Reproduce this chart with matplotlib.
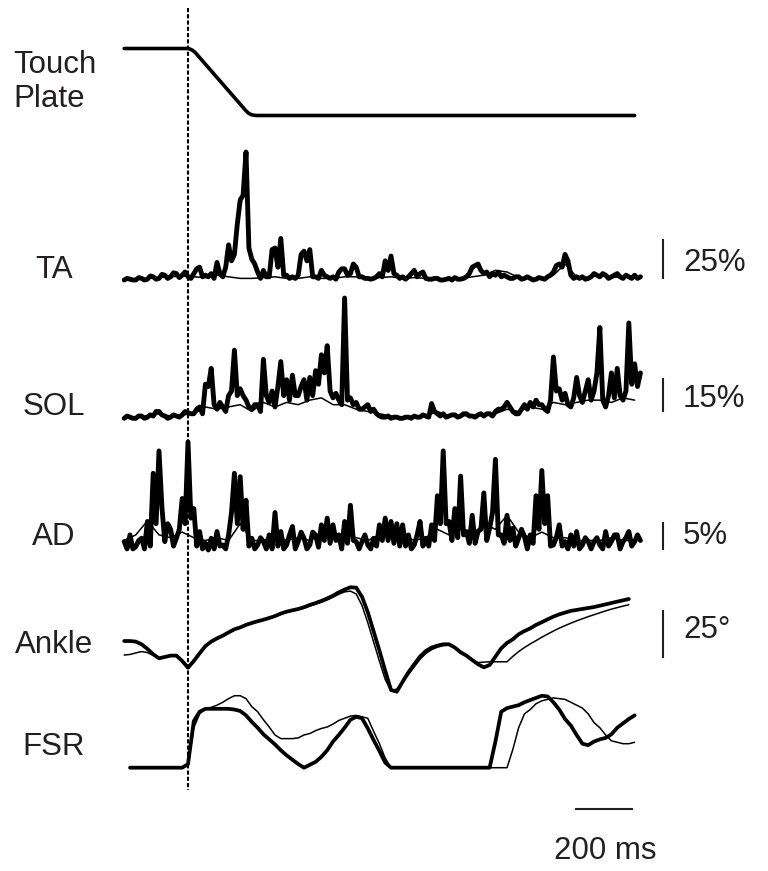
import numpy as np
import matplotlib
matplotlib.use("Agg")
import matplotlib.pyplot as plt

# ---------------- data (time in ms relative to touch-plate release) ----------------
EMG_STEP = 10   # ms sampling of thick EMG traces
THIN_STEP = 40  # ms sampling of thin EMG traces
KIN_STEP = 20   # ms sampling of ankle / FSR traces

# Touch plate position (normalised)
touch_t = [-220, -5, 5, 15, 25, 200, 210, 220, 235, 1540]
touch_v = [1.0, 1.0, 0.995, 0.975, 0.94, 0.07, 0.03, 0.01, 0.0, 0.0]

# TA EMG (% max), thick trace, t0=-220, rows of 100 ms
ta_t0 = -220
ta_thick = [0, 1, 0.5, 0, 0, 1.5, 1, 0, 0.5, 2.5,        # -220
            2, 0.5, 1, 3.5, 3, 1, 2, 4.5, 4, 1.5,        # -120
            3, 5, 2, 1, 4, 7, 8, 2, 3, 2,                # -20
            4, 1, 11, 4, 2, 8, 22, 12, 16, 35,           # 80
            50, 53, 80, 20, 13, 10, 5, 1, 6, 2,          # 180
            2, 19, 20, 8, 26, 3, 3, 1, 2, 1,             # 280
            3, 16, 18, 12, 19, 2, 2, 1, 6, 3,            # 380
            2, 1, 2, 0.5, 5, 7, 7, 3, 4, 10,             # 480
            8, 2, 2, 1, 1, 0.5, 1, 2, 4, 2,              # 580
            12, 6, 15, 4, 3, 1, 2, 0.5, 2, 4,            # 680
            6, 2, 4, 5, 1, 0.5, 0.5, 1, 1, 0,            # 780
            0, 0.5, 1, 0, 1.5, 0.5, 0.5, 1, 2, 4,        # 880
            8, 9, 10, 6, 4, 5, 2, 4, 3, 5,               # 980
            2, 3, 2, 1, 1, 2, 2, 0.5, 1, 2,              # 1080
            1, 0, 0.5, 1.5, 1, 0.5, 2, 3, 5, 9,          # 1180
            10, 8, 16, 12, 3, 1, 2, 1, 2, 0.5,           # 1280
            1, 2, 4, 3, 2, 4, 3, 1, 2, 3,                # 1380
            4, 2, 1, 3, 2, 1, 3, 1, 2]                   # 1480..1560
ta_thin = [0.5, 0.5, 1, 1.5, 2, 2.5, 2, 1.5, 3, 2,
           1, 1, 1.5, 2, 1, 1, 2, 1, 1, 2,
           2, 1, 1.5, 2, 1, 1.5, 1, 0.5, 1, 1,
           2, 3, 6, 5, 1.5, 1, 1, 3, 10, 2,
           1.5, 3, 2, 1.5, 2]

# SOL EMG (% max)
sol_t0 = -220
sol_thick = [0, 1, 0.5, 0, 0, 1, 1, 0, 0.5, 1.5,         # -220
             1, 3, 3, 1.5, 1, 0, 0.5, 1.5, 1, 0.5,       # -120
             1.5, 3, 2.5, 2, 2, 4, 5, 2, 15, 14,         # -20
             22, 6, 4, 7, 5, 3, 10, 12, 30, 10,          # 80
             13, 10, 8, 5, 4, 6, 6, 3, 26, 10,           # 180
             7, 12, 5, 14, 25, 10, 17, 8, 19, 10,        # 280
             10, 14, 17, 8, 18, 10, 21, 15, 28, 20,      # 380
             32, 12, 9, 11, 8, 6, 53, 8, 9, 6,           # 480
             7, 4, 4, 5, 6, 3, 4, 2, 1, 0.5,             # 580
             0.5, 1, 0, 0.5, 0.5, 0, 0, 0.5, 0.5, 0,     # 680
             1, 0.5, 0.5, 1.5, 1, 0.5, 6.5, 3, 2, 1,     # 780
             2, 0.5, 1, 1.5, 1.5, 0.5, 1, 2, 2, 1,       # 880
             1, 0.5, 1.5, 2, 1, 2, 2, 1, 3, 4,           # 980
             4, 5, 7, 5, 3, 2, 2, 4, 6, 4,               # 1080
             7, 5, 8, 6, 6, 4, 3, 8, 27, 12,             # 1180
             13, 8, 11, 6, 5, 9, 18, 10, 7, 12,          # 1280
             17, 8, 12, 20, 40, 8, 5, 10, 20, 9,         # 1380
             22, 10, 8, 12, 42, 15, 24, 14, 20]          # 1480..1560
sol_thin = [0.5, 0.5, 1, 2, 1, 1.5, 2, 5, 4, 5,
            6, 3, 7, 5, 7, 6, 8, 9, 6, 6,
            4, 3, 2, 1, 0.5, 1, 1, 3, 1, 1,
            1.5, 1, 2, 4, 3, 5, 4, 7, 6, 7,
            8, 8, 7, 9, 8]

# AD EMG (% max)
ad_t0 = -220
ad_thick = [1.8, 0.5, 3, 0.5, 0.9, 2, 2.4, 0.5, 5.4, 1,       # -220
            14, 5, 18, 8, 1.8, 5, 4, 1, 2.4, 4,               # -120
            9.5, 5, 19.6, 6, 7.7, 1, 3.6, 0.5, 1.5, 0.3,      # -20
            2.4, 0.5, 3.6, 1, 1.2, 0.5, 3, 7, 14, 5,          # 80
            13.4, 4, 9.2, 1, 2.4, 0.5, 1.2, 2.5, 1.8, 0.5,    # 180
            3, 0.5, 7, 1, 3.6, 0.5, 1.2, 3, 4.5, 0.5,         # 280
            1.8, 3.5, 2.4, 0.5, 1.2, 3.5, 3, 0.8, 4.8, 2,     # 380
            6, 1.5, 4.8, 2, 3, 0.5, 5.4, 1.5, 8.3, 2,         # 480
            1.8, 0.5, 1.8, 3, 1.2, 0.5, 2.4, 1, 4.8, 2,       # 580
            6, 2, 5.4, 1.5, 5, 1, 4.8, 1, 3, 0.5,             # 680
            1.2, 3, 5.4, 1, 2.4, 1, 4.8, 2, 10, 5,            # 780
            18, 5, 5.4, 2, 7.7, 2.5, 13.5, 3, 3.6, 1.5,       # 880
            6.5, 1.5, 3.6, 4, 10.5, 2, 4.2, 7, 16.5, 3,       # 980
            3, 1.5, 6.5, 2, 4.2, 1, 2.4, 4, 2.7, 0.5,         # 1080
            3, 1.5, 10, 4, 14.5, 5, 10, 1, 1.2, 2.5,          # 1180
            4.8, 1, 1.8, 0.5, 3, 1, 3.6, 0.5, 1.2, 2.5,       # 1280
            1.8, 0.5, 1.8, 2.5, 1.2, 0.5, 3.6, 1, 1.8, 3,     # 1380
            3, 0.5, 1.8, 2.5, 3.6, 1, 1.8, 3, 2]              # 1480..1560
ad_thin = [2, 3, 5.5, 3, 2.5, 3.5, 2.5, 2, 2.5, 2,
           5, 2, 2, 3, 2, 2.5, 2, 3, 2.5, 3,
           2.5, 2, 3, 3, 3, 2, 2.5, 4, 3, 4,
           3, 5, 4, 6.5, 3.5, 2.5, 3.5, 2.5, 2.5, 2,
           2, 2, 2.5, 2, 2]

# Ankle angle (deg), t0=-220, step 20
ank_t0 = -220
ank_thick = [9.0, 9.0, 8.7, 7.3, 4.9, 2.1, 0, 0.7, 1.4, 1.4,
             -1.4, -4.9, -1.4, 2.6, 6.4, 8.7, 10.4, 11.8, 13.5, 15.1,
             16.1, 17.4, 18.4, 19.3, 20.1, 21.0, 22.0, 23.3, 24.3, 25.0,
             25.7, 26.6, 27.8, 28.8, 29.9, 31.2, 32.6, 34.4, 35.8, 37.0,
             36.8, 32.0, 24.0, 14.0, 4.0, -6.5, -16.5, -17.4, -12.2, -7.3,
             -3.1, 0.9, 3.8, 5.6, 6.6, 7.3, 7.3, 5.6, 3.1, 1.4,
             -0.9, -3.1, -4.7, -3.5, 0.9, 5.2, 8.0, 9.9, 12.5, 14.2,
             15.6, 17.4, 18.8, 20.3, 21.7, 22.9, 23.8, 24.7, 25.2, 25.7,
             26.2, 26.7, 27.4, 28.1, 28.8, 29.5, 30.2, 30.9]
ank_thin = [1.7, 2.0, 2.8, 3.5, 3.0, 1.5, 0, 0.7, 1.4, 1.2,
            -1.6, -4.7, -1.8, 2.0, 5.8, 8.3, 10.0, 11.5, 13.2, 14.8,
            15.9, 17.1, 18.1, 19.0, 19.8, 20.7, 21.7, 22.9, 23.9, 24.6,
            25.3, 26.1, 27.2, 28.2, 29.2, 30.4, 31.8, 33.4, 34.6, 35.0,
            33.5, 27.5, 18.5, 8.5, -1.5, -11.0, -17.0, -16.0, -12.5, -8.5,
            -4.5, -0.5, 2.5, 4.5, 5.8, 6.6, 6.9, 5.8, 3.5, 1.2,
            -0.8, -2.2, -2.0, -1.8, -1.8, -1.8, -1.8, 1.0, 3.5, 5.6,
            7.5, 9.2, 11.0, 12.6, 14.2, 15.7, 17.0, 18.3, 19.5, 20.6,
            21.7, 22.7, 23.7, 24.7, 25.6, 26.4, 27.2, 27.9]

# Foot switch (normalised), t0=-200, step 20
fsr_t0 = -200
fsr_thick = [0, 0, 0, 0, 0, 0, 0, 0, 0, 0,                                # -200..-20
             0.05, 0.64, 0.77, 0.81, 0.81, 0.81, 0.81, 0.81, 0.80, 0.78,  # 0..180
             0.72, 0.63, 0.55, 0.46, 0.39, 0.32, 0.24, 0.17, 0.11, 0.05,  # 200..380
             0.0, 0.04, 0.08, 0.15, 0.24, 0.36, 0.45, 0.55, 0.66, 0.70,   # 400..580
             0.68, 0.54, 0.38, 0.23, 0.07, 0, 0, 0, 0, 0,                 # 600..780
             0, 0, 0, 0, 0, 0, 0, 0, 0, 0,                                # 800..980
             0, 0, 0, 0.36, 0.77, 0.82, 0.84, 0.86, 0.90, 0.93,           # 1000..1180
             0.96, 0.99, 0.98, 0.90, 0.80, 0.67, 0.58, 0.45, 0.33, 0.31,  # 1200..1380
             0.36, 0.39, 0.41, 0.46, 0.55, 0.61, 0.67, 0.72]              # 1400..1540
fsr_thin = [0, 0, 0, 0, 0, 0, 0, 0, 0, 0,
            0.03, 0.55, 0.74, 0.81, 0.83, 0.86, 0.90, 0.95, 0.99, 0.99,
            0.95, 0.84, 0.77, 0.66, 0.56, 0.45, 0.40, 0.40, 0.40, 0.41,
            0.45, 0.47, 0.51, 0.54, 0.56, 0.60, 0.65, 0.68, 0.71, 0.72,
            0.70, 0.68, 0.50, 0.33, 0.13, 0, 0, 0, 0, 0,
            0, 0, 0, 0, 0, 0, 0, 0, 0, 0,
            0, 0, 0, 0, 0, 0, 0.25, 0.55, 0.74, 0.80,
            0.88, 0.92, 0.94, 0.96, 0.95, 0.94, 0.90, 0.86, 0.82, 0.74,
            0.62, 0.55, 0.45, 0.37, 0.35, 0.33, 0.33, 0.35]

labels = ["TA", "SOL", "AD", "Ankle", "FSR"]
scale_values = [25, 15, 5, 25]
scale_labels = ["25%", "15%", "5%", "25°"]
time_bar_ms = 200
time_bar_label = "200 ms"

# ---------------- layout ----------------
W, H = 768, 871
X0_PX = 188          # pixel column of t = 0
MS_PER_PX = 3.448
XLIM = (-X0_PX * MS_PER_PX, (W - X0_PX) * MS_PER_PX)
INK = "#231F20"
FONT = ["Liberation Sans", "DejaVu Sans"]
FS = 22.5
THICK_EMG, THICK, THIN = 3.5, 2.7, 1.1

fig = plt.figure(figsize=(W / 100, H / 100), dpi=100)
fig.patch.set_facecolor("white")


def trace_axes(base_px, px_per_unit):
    ax = fig.add_axes([0, 0, 1, 1])
    ax.set_xlim(*XLIM)
    ax.set_ylim((base_px - H) / px_per_unit, base_px / px_per_unit)
    ax.axis("off")
    ax.patch.set_alpha(0)
    return ax


def tgrid(t0, vals, step):
    return t0 + step * np.arange(len(vals))


line_kw = dict(color="black", solid_joinstyle="round", solid_capstyle="round")

# Touch plate
ax_tp = trace_axes(115.5, 67.0)
ax_tp.plot(touch_t, touch_v, lw=2.6, **line_kw)

# EMG traces
emg = [(280.0, 1.6, ta_t0, ta_thin, ta_thick),
       (418.3, 2.27, sol_t0, sol_thin, sol_thick),
       (551.7, 5.6, ad_t0, ad_thin, ad_thick)]
emg_axes = []
for base, s, t0, thin, thick in emg:
    ax = trace_axes(base, s)
    ax.plot(tgrid(t0, thin, THIN_STEP), thin, lw=THIN, **line_kw)
    ax.plot(tgrid(t0, thick, EMG_STEP), thick, lw=THICK_EMG, **line_kw)
    emg_axes.append(ax)
ax_ta, ax_sol, ax_ad = emg_axes

# Ankle
ax_an = trace_axes(658.3, 1.92)
ax_an.plot(tgrid(ank_t0, ank_thin, KIN_STEP), ank_thin, lw=THIN, **line_kw)
ax_an.plot(tgrid(ank_t0, ank_thick, KIN_STEP), ank_thick, lw=THICK, **line_kw)

# FSR
ax_fsr = trace_axes(767.7, 72.7)
ax_fsr.plot(tgrid(fsr_t0, fsr_thin, KIN_STEP), fsr_thin, lw=THIN, **line_kw)
ax_fsr.plot(tgrid(fsr_t0, fsr_thick, KIN_STEP), fsr_thick, lw=THICK, **line_kw)

# amplitude scale bars
bar_t = (663 - X0_PX) * MS_PER_PX
bar_axes = [ax_ta, ax_sol, ax_ad, ax_an]
bar_base = [0.5, 2.8, 0.3, 0.0]
for ax, v, b in zip(bar_axes, scale_values, bar_base):
    ax.plot([bar_t, bar_t], [b, b + v], color=INK, lw=1.5, solid_capstyle="butt")

# overlay axes in pixel-y for dashed marker and time bar
ax0 = fig.add_axes([0, 0, 1, 1])
ax0.set_xlim(*XLIM)
ax0.set_ylim(H, 0)
ax0.axis("off")
ax0.patch.set_alpha(0)
ax0.plot([0, 0], [8, 790], color="black", lw=1.5, linestyle=(0, (2.0, 1.0)))
ax0.plot([1334, 1334 + time_bar_ms], [809, 809], color=INK, lw=1.5,
         solid_capstyle="butt")


def ptext(x, y, s, **kw):
    fig.text(x / W, 1 - y / H, s, fontsize=FS, family=FONT, color=INK,
             va="center", **kw)


ptext(13, 82, "Touch\nPlate", ha="left", linespacing=1.15)
label_y = [270, 407, 537, 645, 747]
for lab, yy in zip(labels, label_y):
    ptext(54, yy, lab, ha="center")

scale_y = [263, 399, 536, 630]
for lab, yy in zip(scale_labels, scale_y):
    ptext(683, yy, lab, ha="left")

ptext(605, 851, time_bar_label, ha="center")

fig.savefig("out.png", dpi=100, facecolor="white")
